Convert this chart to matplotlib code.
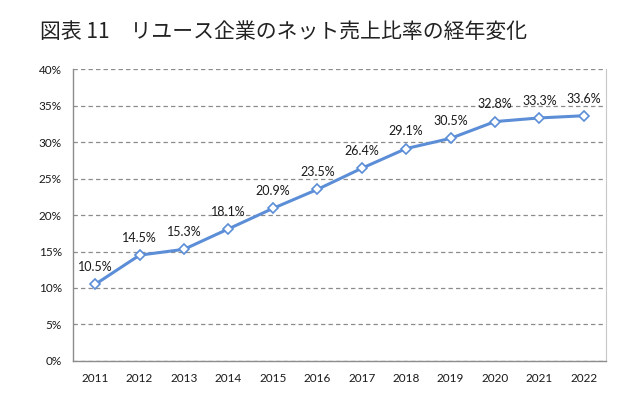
import matplotlib.pyplot as plt
from matplotlib.ticker import PercentFormatter

years = ['2011', '2012', '2013', '2014', '2015', '2016',
         '2017', '2018', '2019', '2020', '2021', '2022']
ratio = [10.5, 14.5, 15.3, 18.1, 20.9, 23.5, 26.4, 29.1, 30.5, 32.8, 33.3, 33.6]
title = '図表 11　リユース企業のネット売上比率の経年変化'

plt.rcParams['font.family'] = ['Lato', 'DejaVu Sans']

fig = plt.figure(figsize=(6.43, 3.94), dpi=100)
ax = fig.add_axes([0.1135, 0.0838, 0.829, 0.741])

x = list(range(len(years)))
ax.plot(x, ratio, color='#5B8ED6', linewidth=2.2, marker='D', markersize=5,
        markerfacecolor='white', markeredgecolor='#5B8ED6', markeredgewidth=1.2,
        zorder=3)

for xi, v in zip(x, ratio):
    ax.annotate(f'{v:.1f}%', (xi, v), xytext=(0, 8), textcoords='offset points',
                ha='center', va='bottom', fontsize=9, color='#1a1a1a')

ax.set_xlim(-0.5, len(years) - 0.5)
ax.set_ylim(0, 40)
ax.set_xticks(x)
ax.set_xticklabels(years)
ax.set_yticks(range(0, 41, 5))
ax.yaxis.set_major_formatter(PercentFormatter(decimals=0))
ax.tick_params(axis='both', length=0, labelsize=8.5, colors='#1a1a1a')
ax.tick_params(axis='x', pad=9)
ax.tick_params(axis='y', pad=8)

ax.grid(axis='y', linestyle=(0, (3.5, 2.5)), color='#8c8c8c', linewidth=0.9)
ax.set_axisbelow(True)
for side in ['left', 'bottom']:
    ax.spines[side].set_color('#8c8c8c')
    ax.spines[side].set_linewidth(1.0)
ax.spines['right'].set_color('#c8c8c8')
ax.spines['top'].set_visible(False)

fig.text(40 / 643, 1 - 32 / 394, title, fontsize=15, va='center', ha='left',
         family=['Noto Sans CJK JP', 'DejaVu Sans'], color='#222222')

fig.savefig('out.png', dpi=100)
